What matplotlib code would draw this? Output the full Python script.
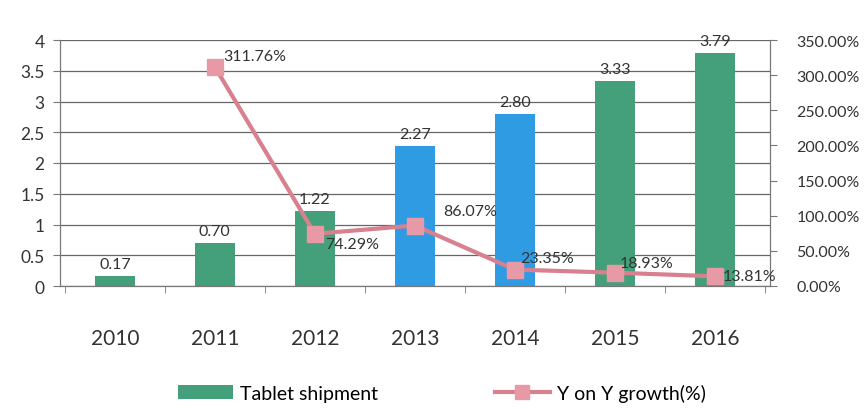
import matplotlib
matplotlib.use("Agg")
import matplotlib.pyplot as plt
import numpy as np
from matplotlib.patches import Patch
from matplotlib.lines import Line2D

years = ["2010", "2011", "2012", "2013", "2014", "2015", "2016"]
shipments = [0.17, 0.70, 1.22, 2.27, 2.80, 3.33, 3.79]
growth_years = ["2011", "2012", "2013", "2014", "2015", "2016"]
growth = [311.76, 74.29, 86.07, 23.35, 18.93, 13.81]
bar_colors = ["#44a07a", "#44a07a", "#44a07a", "#2f9be3", "#2f9be3", "#44a07a", "#44a07a"]
left_ticks = [0, 0.5, 1, 1.5, 2, 2.5, 3, 3.5, 4]
right_ticks = [0, 50, 100, 150, 200, 250, 300, 350]

plt.rcParams['font.family'] = ['Lato', 'DejaVu Sans']
grey = "#333333"
fig = plt.figure(figsize=(8.67, 4.10), dpi=100)
ax = fig.add_axes([0.069, 0.30, 0.819, 0.60])
x = np.arange(len(years))
ax.bar(x, shipments, width=0.4, color=bar_colors, zorder=2)
for xi, v in zip(x, shipments):
    ax.text(xi, v + 0.08, f"{v:.2f}", ha="center", va="bottom", fontsize=11.5, color=grey)
ax.set_xlim(-0.55, len(years) - 0.45)
ax.set_ylim(0, 4)
ax.set_yticks(left_ticks)
ax.set_yticklabels([f"{t:g}" for t in left_ticks], fontsize=12.5, color=grey)
ax.set_xticks(x)
ax.set_xticklabels(years, fontsize=15, color=grey)
ax.set_xticks(np.arange(len(years) + 1) - 0.5, minor=True)
ax.tick_params(axis="x", which="major", length=0, pad=30)
ax.tick_params(axis="x", which="minor", length=5, color="#777777")
ax.tick_params(axis="y", length=5, color="#777777", pad=6)
ax.grid(axis="y", color="#666666", linewidth=0.9, zorder=0)
ax.set_axisbelow(True)
for s in ["left", "bottom", "right"]:
    ax.spines[s].set_color("#777777")
ax.spines["top"].set_visible(False)

ax2 = ax.twinx()
ax2.set_ylim(0, 350)
gx = [years.index(y) for y in growth_years]
ax2.plot(gx, growth, color="#d9808f", linewidth=3, marker="s", markersize=11,
         markerfacecolor="#e79aa6", markeredgecolor="#e79aa6", zorder=3)
offsets = {"2011": (0.08, 6, "bottom"), "2012": (0.1, -4, "top"), "2013": (0.28, 10, "bottom"),
           "2014": (0.05, 6, "bottom"), "2015": (0.05, 4, "bottom"), "2016": (0.08, 0, "center")}
for yr, xi, v in zip(growth_years, gx, growth):
    dx, dy, va = offsets[yr]
    ax2.text(xi + dx, v + dy, f"{v:.2f}%", ha="left", va=va, fontsize=11.5, color=grey, zorder=4)
ax2.set_yticks(right_ticks)
ax2.set_yticklabels([f"{t:.2f}%" for t in right_ticks], fontsize=11.5, color=grey)
ax2.tick_params(axis="y", length=5, color="#777777", pad=14)
for s in ["left", "bottom", "right"]:
    ax2.spines[s].set_color("#777777")
ax2.spines["top"].set_visible(False)

handles = [Patch(facecolor="#44a07a", label="Tablet shipment"),
           Line2D([0], [0], color="#d9808f", linewidth=3, marker="s", markersize=10,
                  markerfacecolor="#e79aa6", markeredgecolor="#e79aa6", label="Y on Y growth(%)")]
fig.legend(handles=handles, loc="lower center", bbox_to_anchor=(0.51, -0.025), ncol=2,
           frameon=False, fontsize=14, handlelength=2.8, handletextpad=0.4, columnspacing=6)
fig.savefig("out.png", dpi=100)
